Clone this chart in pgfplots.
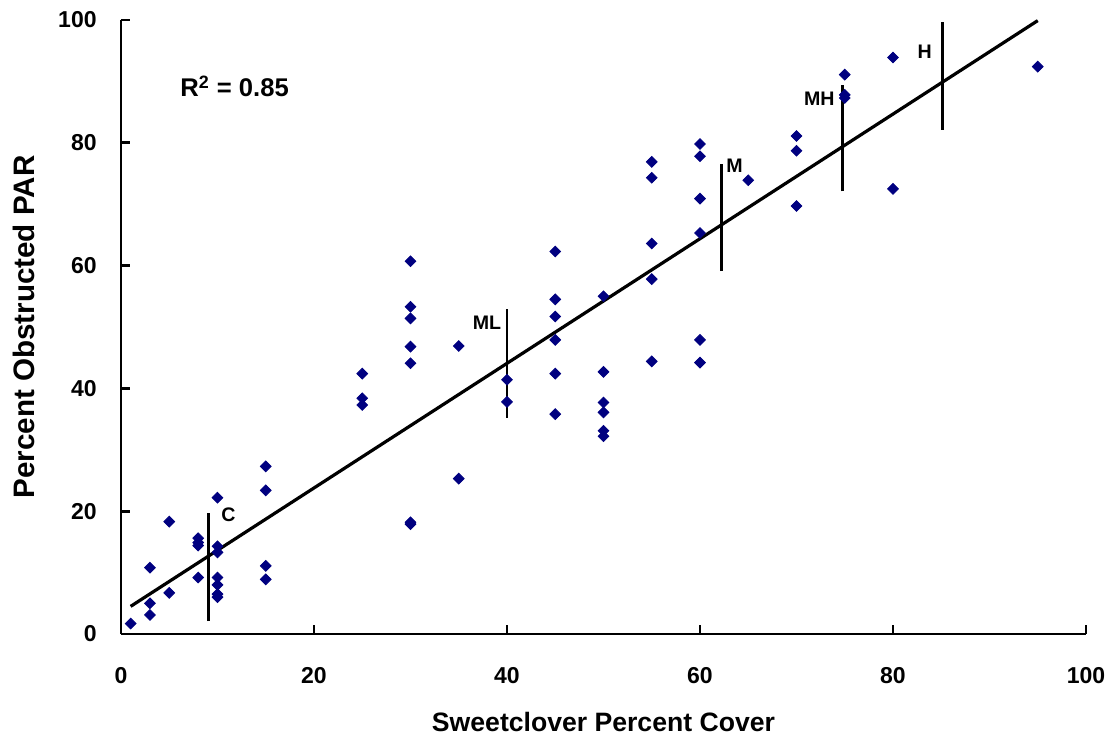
\documentclass[border=0pt]{standalone}
\usepackage{fontspec}
\setmainfont{Liberation Sans}
\usepackage{pgfplots}
\pgfplotsset{compat=1.18}

\definecolor{ptnavy}{RGB}{0,0,128}

\begin{document}
\begin{tikzpicture}
\begin{axis}[
    scale only axis,
    width=482.5pt, height=307pt,
    xmin=0, xmax=100, ymin=0, ymax=100,
    xtick={0,20,...,100}, ytick={0,20,...,100},
    axis x line*=bottom, axis y line*=left,
    axis line style={line width=1.4pt, -},
    tick align=inside,
    major tick length=4.5pt,
    tick style={line width=1.4pt, black},
    /pgf/number format/assume math mode=true,
    ticklabel style={font=\fontsize{11.5}{13}\selectfont\bfseries, inner sep=0pt},
    xticklabel style={anchor=north, yshift=-16.5pt},
    yticklabel style={anchor=east, xshift=-12pt},
    xlabel={Sweetclover Percent Cover},
    ylabel={Percent Obstructed PAR},
    xlabel style={font=\fontsize{13.3}{15}\selectfont\bfseries,
        at={(axis description cs:0.5,-0.1428)}, anchor=center},
    ylabel style={font=\fontsize{14.8}{16}\selectfont\bfseries,
        at={(axis description cs:-0.1005,0.5)}, anchor=center, rotate=0},
    clip=false,
]
% observations
\addplot[only marks, mark=square*, mark size=1.9pt,
    mark options={rotate=45, fill=ptnavy, draw=ptnavy}] coordinates {
    (1,1.7)
    (3,10.8) (3,5.0) (3,3.1)
    (5,18.3) (5,6.7)
    (8,15.6) (8,14.9) (8,14.4) (8,9.2)
    (10,22.2) (10,14.3) (10,13.3) (10,9.2) (10,8.0) (10,6.5) (10,6.0)
    (15,27.3) (15,23.4) (15,11.1) (15,8.9)
    (25,42.4) (25,38.4) (25,37.3)
    (30,60.7) (30,53.3) (30,51.4) (30,46.8) (30,44.1) (30,18.2) (30,17.9)
    (35,46.9) (35,25.3)
    (40,41.4) (40,37.8)
    (45,62.3) (45,54.5) (45,51.7) (45,47.9) (45,42.4) (45,35.8)
    (50,55.0) (50,42.7) (50,37.7) (50,36.1) (50,33.1) (50,32.2)
    (55,76.9) (55,74.3) (55,63.6) (55,57.8) (55,44.4)
    (60,79.8) (60,77.8) (60,70.9) (60,65.3) (60,47.9) (60,44.2)
    (65,73.9)
    (70,81.1) (70,78.7) (70,69.7)
    (75,91.1) (75,87.8) (75,87.3)
    (80,93.9) (80,72.5)
    (95,92.4)
};
% regression line
\addplot[black, line width=1.6pt] coordinates {(1,4.5) (95,99.9)};
% class markers
\addplot[black, line width=1.35pt] coordinates {(9.1,2.1) (9.1,19.7)};
\addplot[black, line width=1.35pt] coordinates {(40,35.2) (40,53.0)};
\addplot[black, line width=1.35pt] coordinates {(62.2,59.1) (62.2,76.5)};
\addplot[black, line width=1.35pt] coordinates {(74.8,72.1) (74.8,89.4)};
\addplot[black, line width=1.35pt] coordinates {(85.1,82.1) (85.1,99.6)};
\begin{scope}[every node/.style={font=\fontsize{9.8}{11}\selectfont\bfseries, inner sep=0pt}]
\node[anchor=base west] at (axis cs:10.36,18.4) {C};
\node[anchor=base east] at (axis cs:39.44,49.6) {ML};
\node[anchor=base west] at (axis cs:62.69,75.2) {M};
\node[anchor=base east] at (axis cs:73.99,86.0) {MH};
\node[anchor=base east] at (axis cs:84.07,93.7) {H};
\end{scope}
\node[anchor=base west, inner sep=0pt, font=\fontsize{12.8}{14}\selectfont\bfseries]
    at (axis cs:6.11,87.5) {R\textsuperscript{2} = 0.85};
\end{axis}
\useasboundingbox (-60.5pt,-50pt) rectangle (497.5pt,317pt);
\end{tikzpicture}
\end{document}
